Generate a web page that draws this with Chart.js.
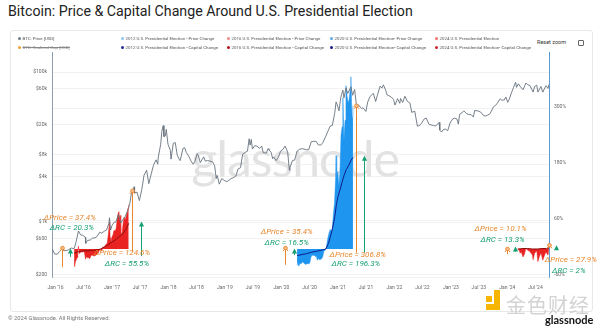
<!DOCTYPE html>
<html>
<head>
<meta charset="utf-8">
<script src="https://cdn.jsdelivr.net/npm/chart.js@4.4.1/dist/chart.umd.min.js"></script>
<style>
  html, body { margin: 0; padding: 0; background: #fff; }
  #wrap { position: relative; width: 600px; height: 329px; overflow: hidden; font-family: Roboto, "Noto Sans", sans-serif; }
  #title { position: absolute; left: 8px; top: 3px; font-size: 16px; color: #222; white-space: nowrap; }
  #panel { position: absolute; left: 10px; top: 30px; width: 581px; height: 280px; border: 1px solid #e8e8e8; border-radius: 3px; }
  #mark { position: absolute; left: 295px; top: 158px; transform: translate(-50%, -50%); font-family: Lato, "Open Sans", sans-serif; font-size: 50px; color: #e2e2e2; letter-spacing: -1px; white-space: nowrap; }
  .leg { position: absolute; font-size: 4.4px; color: #555; white-space: nowrap; line-height: 6px; }
  .leg i { display: inline-block; width: 3px; height: 3px; border-radius: 50%; margin-right: 1.5px; vertical-align: middle; }
  .leg.off span { text-decoration: line-through; color: #888; }
  #reset { position: absolute; left: 537px; top: 39px; font-size: 5.5px; color: #333; }
  #menu { position: absolute; left: 578px; top: 39.5px; width: 4px; height: 4px; border: 0.8px solid #666; border-radius: 1px; }
  #foot { position: absolute; left: 8px; top: 315px; font-size: 5.8px; color: #777; }
  #gn { position: absolute; left: 545px; top: 313px; font-family: Lato, "Open Sans", sans-serif; font-weight: 700; font-size: 11px; color: #111; }
  #js { position: absolute; left: 506px; top: 290px; font-family: "Noto Sans CJK SC", sans-serif; font-size: 20px; color: rgba(200,200,200,0.8); letter-spacing: 1px; }
  .ylw { position: absolute; background: #f5b500; }
  canvas { position: absolute; left: 0; top: 0; }
</style>
</head>
<body>
<div id="wrap">
  <div id="title">Bitcoin: Price &amp; Capital Change Around U.S. Presidential Election</div>
  <div id="panel"></div>
  <div id="mark">glassnode</div>
  <div id="reset">Reset zoom</div>
  <div id="menu"></div>
  <canvas id="c" width="600" height="329"></canvas>
  <div class="ylw" style="left:486px;top:296px;width:6px;height:6px"></div>
  <div class="ylw" style="left:494px;top:290px;width:6px;height:20px"></div>
  <div class="ylw" style="left:486px;top:304px;width:14px;height:6px"></div>
  <div id="js">金色财经</div>
  <div id="foot">© 2024 Glassnode. All Rights Reserved.</div>
  <div id="gn">glassnode</div>
</div>
<script>
const ORANGE = '#e8872e';
const GREEN = '#17a074';

const legendLabels = [
  'BTC: Price [USD]', 'BTC: Realized Cap [USD]',
  '2012 U.S. Presidential Election - Price Change', '2012 U.S. Presidential Election - Capital Change',
  '2016 U.S. Presidential Election - Price Change', '2016 U.S. Presidential Election - Capital Change',
  '2020 U.S. Presidential Election- Price Change', '2020 U.S. Presidential Election- Capital Change',
  '2024 U.S. Presidential Election', '2024 U.S. Presidential Election- Capital Change'
];
const legendColors = ['#6b7b8c', '#f0a030', '#8cc8f0', '#1f2c9c', '#f08a8a', '#b0101a', '#5aa8e8', '#1a1a8c', '#f07070', '#d0202a'];
const legendHidden = [false, true, false, false, false, false, false, false, false, false];

// BTC price, USD
const priceDates = [
  '2016-01-01','2016-01-15','2016-02-01','2016-02-15','2016-03-01','2016-03-15','2016-04-01','2016-04-15','2016-05-01','2016-05-20',
  '2016-06-01','2016-06-17','2016-07-01','2016-07-15','2016-08-01','2016-08-03','2016-08-15','2016-09-01','2016-09-15','2016-10-01',
  '2016-10-15','2016-11-01','2016-11-15','2016-12-01','2016-12-15','2016-12-31','2017-01-04','2017-01-11','2017-01-20','2017-02-01',
  '2017-02-15','2017-03-02','2017-03-10','2017-03-18','2017-04-01','2017-04-15','2017-05-01','2017-05-15','2017-05-25','2017-06-01',
  '2017-06-12','2017-06-15','2017-07-01','2017-07-16','2017-08-01','2017-08-15','2017-09-01','2017-09-15','2017-10-01','2017-10-15',
  '2017-11-01','2017-11-12','2017-11-15','2017-12-01','2017-12-08','2017-12-17','2017-12-22','2017-12-31','2018-01-06','2018-01-17',
  '2018-02-01','2018-02-06','2018-02-20','2018-03-05','2018-03-18','2018-04-01','2018-04-06','2018-04-24','2018-05-05','2018-05-15',
  '2018-06-01','2018-06-15','2018-06-29','2018-07-10','2018-07-25','2018-08-01','2018-08-14','2018-09-05','2018-09-15','2018-10-01',
  '2018-10-15','2018-11-01','2018-11-15','2018-11-25','2018-12-01','2018-12-15','2018-12-31','2019-01-15','2019-02-01','2019-02-15',
  '2019-03-01','2019-03-15','2019-04-01','2019-04-15','2019-05-01','2019-05-15','2019-06-01','2019-06-15','2019-06-26','2019-07-02',
  '2019-07-10','2019-07-17','2019-08-01','2019-08-15','2019-09-01','2019-09-15','2019-09-25','2019-10-15','2019-10-26','2019-11-01',
  '2019-11-15','2019-11-25','2019-12-01','2019-12-17','2019-12-31','2020-01-15','2020-02-01','2020-02-13','2020-03-01','2020-03-12',
  '2020-03-15','2020-04-01','2020-04-15','2020-05-01','2020-05-15','2020-06-01','2020-06-15','2020-07-01','2020-07-15','2020-08-01',
  '2020-08-15','2020-09-01','2020-09-15','2020-10-01','2020-10-15','2020-11-01','2020-11-15','2020-12-01','2020-12-15','2020-12-31',
  '2021-01-08','2021-01-15','2021-01-27','2021-02-08','2021-02-21','2021-02-28','2021-03-13','2021-03-25','2021-04-14','2021-04-25',
  '2021-05-08','2021-05-19','2021-06-01','2021-06-22','2021-07-01','2021-07-20','2021-08-01','2021-08-15','2021-09-06','2021-09-21',
  '2021-10-01','2021-10-20','2021-11-01','2021-11-10','2021-11-25','2021-12-04','2021-12-15','2021-12-31','2022-01-15','2022-01-24',
  '2022-02-10','2022-02-24','2022-03-01','2022-03-15','2022-03-29','2022-04-15','2022-05-01','2022-05-12','2022-06-01','2022-06-18',
  '2022-07-01','2022-07-15','2022-07-31','2022-08-14','2022-09-01','2022-09-15','2022-10-01','2022-10-15','2022-11-05','2022-11-10',
  '2022-11-21','2022-12-01','2022-12-15','2022-12-31','2023-01-15','2023-02-01','2023-02-15','2023-03-01','2023-03-10','2023-03-18',
  '2023-04-01','2023-04-14','2023-05-01','2023-05-15','2023-06-01','2023-06-15','2023-06-23','2023-07-15','2023-08-01','2023-08-17',
  '2023-09-01','2023-09-15','2023-10-01','2023-10-24','2023-11-01','2023-11-15','2023-12-05','2023-12-15','2023-12-31','2024-01-11',
  '2024-01-23','2024-02-01','2024-02-15','2024-03-01','2024-03-14','2024-03-20','2024-04-01','2024-04-15','2024-05-01','2024-05-20',
  '2024-06-01','2024-06-15','2024-07-05','2024-07-15','2024-07-29','2024-08-05','2024-08-25','2024-09-06','2024-09-15','2024-09-27',
  '2024-10-10','2024-10-16'
];
const priceValues = [
  430, 375, 372, 405, 435, 415, 417, 428, 450, 442,
  535, 760, 675, 665, 625, 520, 570, 575, 610, 615,
  640, 730, 710, 755, 780, 960, 1140, 780, 895, 985,
  1010, 1260, 1110, 970, 1080, 1180, 1420, 1750, 2400, 2400,
  2950, 2450, 2500, 1930, 2730, 4200, 4900, 3250, 4400, 5700,
  6750, 5900, 7300, 10900, 16000, 19300, 13800, 14100, 17200, 10900,
  9100, 6900, 11200, 11500, 7800, 6800, 6600, 9600, 9800, 8500,
  7500, 6500, 5900, 6400, 8200, 7700, 6200, 7400, 6500, 6600,
  6500, 6350, 5600, 3800, 4200, 3200, 3800, 3600, 3450, 3600,
  3800, 3900, 4100, 5100, 5300, 8000, 8500, 8800, 12900, 10600,
  12600, 9400, 10400, 10300, 9600, 10300, 8400, 8300, 9500, 9150,
  8500, 7000, 7400, 6600, 7200, 8800, 9400, 10300, 8600, 4900,
  5300, 6600, 6700, 8800, 9300, 9500, 9400, 9200, 9200, 11800,
  11900, 11900, 10700, 10600, 11500, 13700, 16000, 19000, 19400, 29000,
  40000, 37000, 30400, 46400, 57500, 45200, 61200, 52000, 63500, 49000,
  58500, 37000, 36700, 32500, 33500, 29800, 40000, 47000, 52000, 40500,
  48000, 65000, 61000, 67500, 57000, 49500, 48500, 46300, 43000, 36300,
  44000, 38300, 44400, 39300, 47500, 40500, 38500, 29000, 30000, 19000,
  19300, 20800, 23600, 24300, 20100, 19700, 19300, 19100, 21300, 16800,
  15800, 17000, 17400, 16550, 20900, 23700, 24300, 23600, 20200, 27400,
  28500, 30400, 28000, 27200, 27000, 25100, 30700, 30300, 29300, 26600,
  25900, 26600, 27900, 34500, 35400, 37800, 44000, 42300, 42300, 46500,
  39500, 43000, 52000, 62500, 73000, 62500, 69700, 63400, 58000, 71400,
  67600, 66000, 54000, 64000, 66800, 54000, 64200, 53900, 59200, 65800,
  60500, 68500
];

// 2016 election window, % change vs election day
const e16Dates = [
  '2016-05-20','2016-05-25','2016-05-29','2016-06-02','2016-06-08','2016-06-13','2016-06-17','2016-06-22','2016-06-28','2016-07-05',
  '2016-07-12','2016-07-19','2016-07-26','2016-08-02','2016-08-08','2016-08-15','2016-08-22','2016-08-29','2016-09-05','2016-09-12',
  '2016-09-19','2016-09-26','2016-10-03','2016-10-10','2016-10-17','2016-10-24','2016-10-31','2016-11-08','2016-11-15','2016-11-22',
  '2016-11-29','2016-12-06','2016-12-13','2016-12-20','2016-12-27','2017-01-04','2017-01-08','2017-01-12','2017-01-19','2017-01-26',
  '2017-02-02','2017-02-09','2017-02-16','2017-02-23','2017-03-02','2017-03-06','2017-03-10','2017-03-14','2017-03-18','2017-03-25',
  '2017-04-01','2017-04-08','2017-04-15','2017-04-22','2017-04-29','2017-05-04','2017-05-08'
];
const e16Price = [
  -37, -34, -26, -24, -18, -5, 6, -10, -8, -6,
  -7, -5, -8, -22, -16, -19, -18, -21, -15, -13,
  -14, -15, -14, -13, -10, -8, -2, 0, -5, 5,
  3, 7, 10, 12, 30, 59, 24, 10, 25, 30,
  40, 38, 44, 65, 78, 80, 60, 72, 37, 30,
  52, 68, 62, 70, 78, 88, 95
];
const e16RcDates = ['2016-05-20','2016-06-15','2016-07-15','2016-08-15','2016-09-15','2016-10-15','2016-11-08','2016-12-01',
  '2016-12-20','2017-01-10','2017-02-01','2017-02-20','2017-03-10','2017-03-30','2017-04-20','2017-05-08'];
const e16Rc = [-9, -6, -4, -4, -3, -2, 0, 4, 8, 13, 17, 22, 27, 32, 42, 55];

// 2020 election window
const e20Dates = [
  '2020-05-01','2020-05-08','2020-05-12','2020-05-20','2020-05-27','2020-06-03','2020-06-10','2020-06-17','2020-06-24','2020-07-01',
  '2020-07-08','2020-07-15','2020-07-22','2020-07-29','2020-08-05','2020-08-12','2020-08-19','2020-08-26','2020-09-02','2020-09-09',
  '2020-09-16','2020-09-23','2020-09-30','2020-10-07','2020-10-14','2020-10-21','2020-10-28','2020-11-03','2020-11-10','2020-11-17',
  '2020-11-24','2020-12-01','2020-12-08','2020-12-15','2020-12-22','2020-12-29','2021-01-05','2021-01-08','2021-01-12','2021-01-19',
  '2021-01-26','2021-02-02','2021-02-09','2021-02-16','2021-02-21','2021-02-28','2021-03-07','2021-03-13','2021-03-20','2021-03-27',
  '2021-04-03','2021-04-10','2021-04-14','2021-04-18','2021-04-22','2021-04-27'
];
const e20Price = [
  -35, -27, -36, -30, -32, -28, -29, -31, -33, -32,
  -31, -32, -30, -18, -13, -14, -13, -16, -15, -24,
  -20, -23, -22, -21, -16, -5, -3, 0, 12, 25,
  35, 42, 38, 45, 76, 99, 150, 200, 150, 166,
  136, 162, 243, 262, 324, 232, 276, 350, 328, 313,
  321, 343, 369, 313, 282, 307
];
const e20RcDates = ['2020-05-01','2020-06-01','2020-07-01','2020-08-01','2020-09-01','2020-10-01','2020-11-03','2020-11-20','2020-12-01','2020-12-15',
  '2020-12-31','2021-01-10','2021-01-20','2021-02-01','2021-02-15','2021-03-01','2021-03-15','2021-04-01','2021-04-15','2021-04-27'];
const e20Rc = [-14, -12, -10, -7, -5, -3, 0, 12, 25, 42, 70, 95, 112, 125, 142, 158, 170, 180, 190, 196];

// 2024 election window
const e24Dates = ['2024-03-28','2024-04-05','2024-04-13','2024-04-20','2024-05-01','2024-05-10','2024-05-20','2024-06-01','2024-06-10','2024-06-20',
  '2024-07-01','2024-07-05','2024-07-15','2024-07-29','2024-08-05','2024-08-15','2024-08-25','2024-09-06','2024-09-15','2024-09-27',
  '2024-10-05','2024-10-10','2024-10-16'];
const e24Price = [0, -2, -9, -6, -17, -11, 2, -3, -4, -8, -13, -23, -9, -4, -27, -16, -8, -24, -15, -6, -11, -13, 6];
const e24RcDates = ['2024-03-28','2024-05-01','2024-06-01','2024-07-01','2024-08-01','2024-09-01','2024-10-01','2024-10-16'];
const e24Rc = [0, 1, 1, 0, 0, 1, 1, 2];

// axis ticks
const leftTicks = [200, 600, 1000, 4000, 8000, 20000, 60000, 100000];
const leftTickLabels = ['$200', '$600', '$1k', '$4k', '$8k', '$20k', '$60k', '$100k'];
const rightTicks = [-60, 60, 180, 300];
const xTickDates = ['2016-01-01','2016-07-01','2017-01-01','2017-07-01','2018-01-01','2018-07-01','2019-01-01','2019-07-01','2020-01-01',
  '2020-07-01','2021-01-01','2021-07-01','2022-01-01','2022-07-01','2023-01-01','2023-07-01','2024-01-01','2024-07-01'];

// arrows and change labels (on the % axis)
const arrowDates = ['2016-03-03','2016-04-22','2017-05-28','2017-07-25','2020-02-11','2020-04-09','2021-05-16','2021-07-06','2024-01-16','2024-03-08','2024-10-16','2024-11-28'];
const arrowFrom = [-39, -17, -6, -15, -34, -13, -8, -8, -11, -6, 8, 5];
const arrowTo = [2, -2, 124.6, 55.5, 2, -2, 306.8, 196.3, 0, 2, 8, 5];
const arrowKinds = ['price','rc','price','rc','price','rc','price','rc','price','rc','price','rc'];

const noteTexts = ['ΔPrice = 37.4%','ΔRC = 20.3%','ΔPrice = 124.6%','ΔRC = 55.5%','ΔPrice = 35.4%','ΔRC = 16.5%',
  'ΔPrice = 306.8%','ΔRC = 196.3%','ΔPrice = 10.1%','ΔRC = 13.3%','ΔPrice = 27.9%','ΔRC = 2%'];
const noteDates = ['2016-04-22','2016-05-05','2017-03-25','2017-04-27','2020-02-24','2020-02-24','2021-05-28','2021-05-16','2023-12-08','2023-12-21','2025-03-06','2025-02-21'];
const noteValues = [66, 45, -9, -32, 36, 13, -13, -32, 43, 19, -24, -47];

// legend
const wrap = document.getElementById('wrap');
const legCols = [18, 121, 227, 330, 435];
legendLabels.forEach((txt, i) => {
  const el = document.createElement('div');
  el.className = 'leg' + (legendHidden[i] ? ' off' : '');
  el.style.left = legCols[Math.floor(i / 2)] + 'px';
  el.style.top = (i % 2 ? 45 : 36) + 'px';
  el.innerHTML = `<i style="background:${legendColors[i]}"></i><span>${txt}</span>`;
  wrap.appendChild(el);
});

// fit title width to the reference
const title = document.getElementById('title');
title.style.fontSize = (16 * 405 / title.offsetWidth) + 'px';

const pts = (dates, vals) => dates.map((d, i) => ({ x: Date.parse(d), y: vals[i] }));

const notesPlugin = {
  id: 'notes',
  afterDatasetsDraw(chart) {
    const { ctx, scales: { x, y1 } } = chart;
    ctx.save();
    arrowDates.forEach((d, i) => {
      const px = Math.round(x.getPixelForValue(Date.parse(d))) + 0.5;
      const yA = y1.getPixelForValue(arrowFrom[i]);
      const yB = y1.getPixelForValue(arrowTo[i]);
      const col = arrowKinds[i] === 'price' ? ORANGE : GREEN;
      ctx.strokeStyle = col; ctx.fillStyle = col; ctx.lineWidth = 1;
      if (yA - yB > 3) {
        ctx.beginPath(); ctx.moveTo(px, yA); ctx.lineTo(px, yB + 1); ctx.stroke();
      }
      if (arrowKinds[i] === 'price') {
        ctx.beginPath(); ctx.moveTo(px - 2.5, yB + 3); ctx.lineTo(px, yB); ctx.lineTo(px + 2.5, yB + 3); ctx.stroke();
        ctx.beginPath(); ctx.arc(px, yB, 1.8, 0, Math.PI * 2);
        ctx.fillStyle = '#f6c496'; ctx.fill(); ctx.stroke();
      } else {
        ctx.beginPath(); ctx.moveTo(px, yB - 1.5); ctx.lineTo(px - 2.6, yB + 3.5); ctx.lineTo(px + 2.6, yB + 3.5); ctx.closePath(); ctx.fill();
      }
    });
    ctx.font = 'italic 8px Roboto, sans-serif';
    ctx.textAlign = 'center';
    ctx.textBaseline = 'middle';
    noteTexts.forEach((t, i) => {
      ctx.fillStyle = t.startsWith('ΔPrice') ? ORANGE : GREEN;
      ctx.fillText(t, x.getPixelForValue(Date.parse(noteDates[i])), y1.getPixelForValue(noteValues[i]));
    });
    ctx.restore();
  }
};

Chart.defaults.font.family = 'Roboto, "Noto Sans", sans-serif';
Chart.defaults.font.size = 5;
Chart.defaults.color = '#666';

const areaRed = 'rgba(232,22,22,0.95)';
new Chart(document.getElementById('c'), {
  type: 'line',
  data: {
    datasets: [
      { label: legendLabels[0], data: pts(priceDates, priceValues), yAxisID: 'y', borderColor: '#66727e', borderWidth: 0.9, order: 0 },
      { label: legendLabels[4], data: pts(e16Dates, e16Price), yAxisID: 'y1', borderColor: areaRed, backgroundColor: areaRed, fill: 'origin', borderWidth: 0.5, order: 5 },
      { label: legendLabels[5], data: pts(e16RcDates, e16Rc), yAxisID: 'y1', borderColor: '#8e0b0b', borderWidth: 1, order: 2 },
      { label: legendLabels[6], data: pts(e20Dates, e20Price), yAxisID: 'y1', borderColor: '#1e95ef', backgroundColor: '#1e95ef', fill: 'origin', borderWidth: 0.5, order: 5 },
      { label: legendLabels[7], data: pts(e20RcDates, e20Rc), yAxisID: 'y1', borderColor: '#101f8a', borderWidth: 1, order: 2 },
      { label: legendLabels[8], data: pts(e24Dates, e24Price), yAxisID: 'y1', borderColor: areaRed, backgroundColor: areaRed, fill: 'origin', borderWidth: 0.5, order: 5 },
      { label: legendLabels[9], data: pts(e24RcDates, e24Rc), yAxisID: 'y1', borderColor: '#8e0b0b', borderWidth: 1, order: 2 }
    ]
  },
  options: {
    responsive: false,
    animation: false,
    events: [],
    elements: { point: { radius: 0 }, line: { tension: 0 } },
    layout: { padding: { top: 52, left: 0, right: 0, bottom: 0 } },
    plugins: { legend: { display: false }, tooltip: { enabled: false } },
    scales: {
      x: {
        type: 'linear',
        min: Date.parse('2015-12-29'),
        max: Date.parse('2024-10-16'),
        afterBuildTicks: s => { s.ticks = xTickDates.map(d => ({ value: Date.parse(d) })); },
        afterFit: s => { s.height = 52; },
        grid: { display: false, drawTicks: false },
        border: { display: false },
        ticks: {
          autoSkip: false, maxRotation: 0, padding: 8, labelOffset: 3, color: '#666',
          callback: v => {
            const d = new Date(v);
            return (d.getUTCMonth() === 0 ? 'Jan' : 'Jul') + " '" + String(d.getUTCFullYear()).slice(2);
          }
        }
      },
      y: {
        type: 'logarithmic',
        position: 'left',
        min: 185,
        max: 185000,
        afterBuildTicks: s => { s.ticks = leftTicks.map(v => ({ value: v })); },
        afterFit: s => { s.width = 52; },
        grid: { color: '#e9e9e9', lineWidth: 0.6, drawTicks: false },
        border: { color: '#8c9db0', width: 1 },
        ticks: { padding: 5, color: '#666', callback: v => leftTickLabels[leftTicks.indexOf(v)] }
      },
      y1: {
        type: 'linear',
        position: 'right',
        min: -60,
        max: 422,
        afterBuildTicks: s => { s.ticks = rightTicks.map(v => ({ value: v })); },
        afterFit: s => { s.width = 51; },
        grid: { color: '#e9e9e9', lineWidth: 0.6, drawTicks: false },
        border: { color: '#5c9bd1', width: 1 },
        ticks: { padding: 5, color: '#666', labelOffset: -2, callback: v => v + '%' }
      }
    }
  },
  plugins: [notesPlugin]
});
</script>
</body>
</html>
